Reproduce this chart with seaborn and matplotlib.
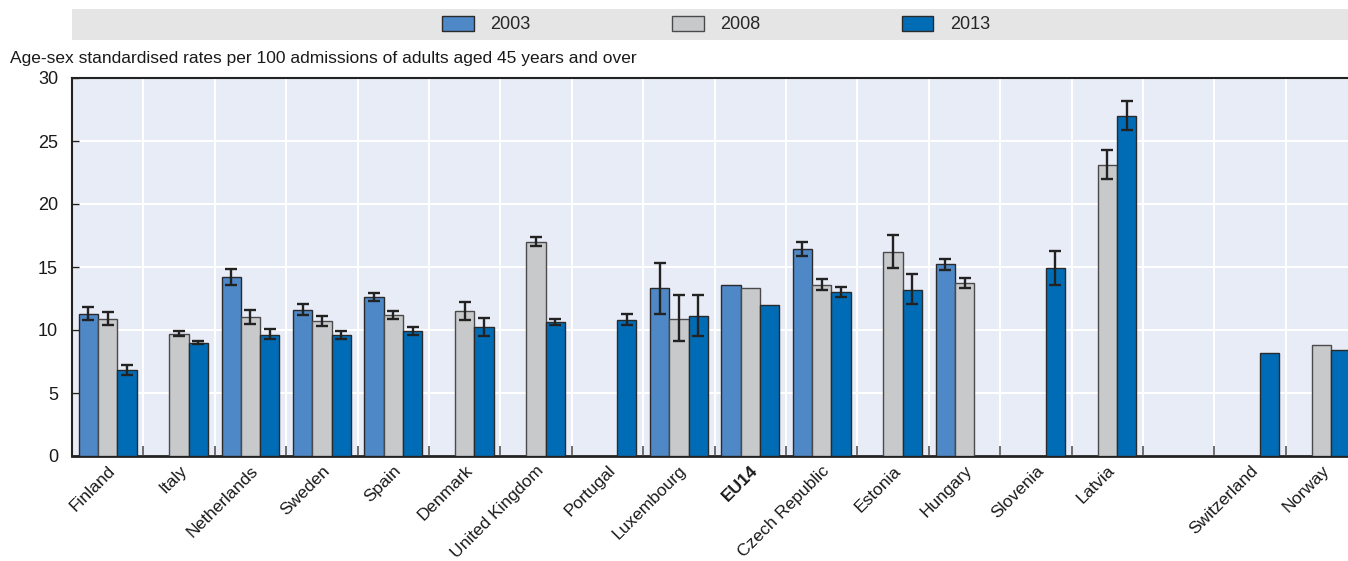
import numpy as np
import pandas as pd
import matplotlib
matplotlib.use("Agg")
import matplotlib.pyplot as plt
from matplotlib.patches import Rectangle, Patch
import seaborn as sns

nan = np.nan
countries = ["Finland", "Italy", "Netherlands", "Sweden", "Spain", "Denmark",
             "United Kingdom", "Portugal", "Luxembourg", "EU14", "Czech Republic",
             "Estonia", "Hungary", "Slovenia", "Latvia", " ", "Switzerland", "Norway"]
years = ["2003", "2008", "2013"]

v2003 = [11.3, nan, 14.2, 11.6, 12.6, nan, nan, nan, 13.3, 13.6, 16.4, nan, 15.2, nan, nan, nan, nan, nan]
lo2003 = [10.8, nan, 13.6, 11.2, 12.3, nan, nan, nan, 11.3, nan, 15.9, nan, 14.8, nan, nan, nan, nan, nan]
hi2003 = [11.85, nan, 14.85, 12.05, 12.95, nan, nan, nan, 15.35, nan, 16.95, nan, 15.6, nan, nan, nan, nan, nan]

v2008 = [10.9, 9.7, 11.0, 10.7, 11.2, 11.5, 17.0, nan, 10.9, 13.3, 13.6, 16.2, 13.7, nan, 23.1, nan, nan, 8.8]
lo2008 = [10.4, 9.5, 10.5, 10.3, 10.9, 10.8, 16.7, nan, 9.1, nan, 13.2, 14.9, 13.3, nan, 22.0, nan, nan, nan]
hi2008 = [11.45, 9.95, 11.55, 11.15, 11.5, 12.25, 17.35, nan, 12.75, nan, 14.05, 17.55, 14.15, nan, 24.25, nan, nan, nan]

v2013 = [6.8, 9.0, 9.6, 9.6, 9.9, 10.2, 10.6, 10.8, 11.1, 12.0, 13.0, 13.2, nan, 14.9, 27.0, nan, 8.2, 8.4]
lo2013 = [6.45, 8.9, 9.25, 9.3, 9.6, 9.5, 10.4, 10.4, 9.5, nan, 12.6, 12.05, nan, 13.6, 25.9, nan, nan, nan]
hi2013 = [7.25, 9.15, 10.05, 9.95, 10.25, 10.95, 10.9, 11.25, 12.75, nan, 13.45, 14.45, nan, 16.25, 28.15, nan, nan, nan]

values = {"2003": v2003, "2008": v2008, "2013": v2013}
lows = {"2003": lo2003, "2008": lo2008, "2013": lo2013}
highs = {"2003": hi2003, "2008": hi2008, "2013": hi2013}
colors = {"2003": "#4F88C6", "2008": "#C8C9CB", "2013": "#006CB6"}
edges = {"2003": "#2A2A2A", "2008": "#4A4A4A", "2013": "#2A2A2A"}

ylabel_text = "Age-sex standardised rates per 100 admissions of adults aged 45 years and over"

rows = []
for y in years:
    for i, c in enumerate(countries):
        rows.append({"country": c, "year": y, "value": values[y][i],
                     "lo": lows[y][i], "hi": highs[y][i]})
df = pd.DataFrame(rows)

sns.set_theme(style="white")
FONT = ["Liberation Sans Narrow", "Liberation Sans", "DejaVu Sans"]
plt.rcParams["font.family"] = FONT
plt.rcParams["font.size"] = 12

W, H = 1348, 561
fig = plt.figure(figsize=(W / 100, H / 100), dpi=100)
slot = 71.4
ax = fig.add_axes([72 / W, (H - 456) / H, slot * len(countries) / W, 378 / H])
ax.set_facecolor("#E8ECF7")

plot_df = df.dropna(subset=["value"])
sns.barplot(data=plot_df, x="country", y="value", hue="year", order=countries,
            hue_order=years, palette=colors, saturation=1, width=0.81, errorbar=None,
            edgecolor="#2A2A2A", linewidth=1.0, ax=ax, legend=False, zorder=3)

# lighter outline on the grey series
for cont, y in zip(ax.containers, years):
    for p in cont:
        p.set_edgecolor(edges[y])

# error bars at the seaborn-drawn bar centres
nh = len(years)
bw = 0.81 / nh
for j, y in enumerate(years):
    for i, c in enumerate(countries):
        v = values[y][i]
        lo, hi = lows[y][i], highs[y][i]
        if np.isnan(v) or np.isnan(lo):
            continue
        xc = i - 0.81 / 2 + bw * (j + 0.5)
        ax.errorbar([xc], [v], yerr=[[v - lo], [hi - v]], fmt="none",
                    ecolor="#222222", elinewidth=1.7, capsize=4.5, capthick=1.7, zorder=4)

ax.set_xlim(-0.5, len(countries) - 0.5)
ax.set_ylim(0, 30)
ax.set_yticks([0, 5, 10, 15, 20, 25, 30])
ax.set_xlabel("")
ax.set_ylabel("")

# grid
ax.set_xticks(np.arange(-0.5, len(countries), 1.0), minor=True)
ax.grid(True, which="major", axis="y", color="white", linewidth=1.5, zorder=0)
ax.grid(True, which="minor", axis="x", color="white", linewidth=1.5, zorder=0)
ax.set_axisbelow(True)

ax.tick_params(axis="y", direction="in", length=5, width=1, color="#222222",
               labelsize=13, pad=10, left=True, labelcolor="#1a1a1a")
ax.tick_params(axis="x", which="major", length=0, pad=5, labelcolor="#1a1a1a")
ax.tick_params(axis="x", which="minor", direction="in", length=7, width=1.2,
               color="#555555", bottom=True)

ax.set_xticks(range(len(countries)))
ax.set_xticklabels(countries, rotation=45, ha="right", rotation_mode="anchor",
                   fontsize=12.5)
for lab in ax.get_xticklabels():
    if lab.get_text() == "EU14":
        lab.set_fontweight("bold")

for s in ["left", "bottom", "top"]:
    ax.spines[s].set_visible(True)
    ax.spines[s].set_color("#222222")
ax.spines["left"].set_linewidth(1.5)
ax.spines["bottom"].set_linewidth(2.0)
ax.spines["top"].set_linewidth(1.5)
ax.spines["right"].set_visible(False)

# y-axis title above the plot
fig.text(10 / W, 1 - 59 / H, ylabel_text, ha="left", va="center", fontsize=12.5,
         color="#1a1a1a")

# legend band
fig.patches.append(Rectangle((72 / W, 1 - 40 / H), 1 - 72 / W, 31 / H,
                             transform=fig.transFigure, facecolor="#E5E5E5",
                             edgecolor="none", zorder=0))
handles = [Patch(facecolor=colors[y], edgecolor=edges[y], linewidth=1.0, label=y)
           for y in years]
fig.legend(handles=handles, loc="center", bbox_to_anchor=(716 / W, 1 - 24.5 / H),
           ncol=3, frameon=False, fontsize=13, handlelength=1.75, handleheight=0.9,
           handletextpad=0.9, columnspacing=7.85, borderaxespad=0)

fig.savefig("out.png", dpi=100)
